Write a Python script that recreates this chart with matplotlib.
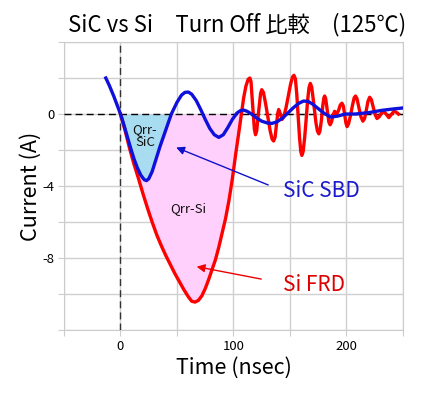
import numpy as np
import matplotlib
matplotlib.use("Agg")
import matplotlib.pyplot as plt

plt.rcParams['font.family'] = ['Noto Sans CJK JP', 'DejaVu Sans']

# SiC SBD turn-off current
sic_t = [-13, -10, -6, -3, 0, 3, 6, 9, 12, 15, 18, 21, 23, 25, 28, 31, 35, 40, 45,
         50, 54, 57, 60, 63, 67, 71, 75, 79, 83, 87, 91, 95, 99, 103, 106, 109, 112,
         116, 120, 125, 130, 134, 138, 143, 148, 153, 158, 162, 166, 170, 175, 180,
         186, 192, 199, 208, 220, 231, 240, 249]
sic_i = [2.0, 1.6, 1.0, 0.5, 0.0, -0.6, -1.25, -1.9, -2.5, -3.0, -3.4, -3.65, -3.7,
         -3.6, -3.2, -2.6, -1.8, -0.9, 0.0, 0.65, 1.05, 1.2, 1.22, 1.1, 0.75, 0.25,
         -0.3, -0.8, -1.15, -1.3, -1.15, -0.75, -0.3, 0.05, 0.18, 0.22, 0.15, 0.0,
         -0.2, -0.4, -0.5, -0.52, -0.45, -0.25, 0.05, 0.35, 0.6, 0.72, 0.7, 0.55,
         0.3, 0.05, -0.17, -0.12, 0.0, 0.0, 0.08, 0.2, 0.27, 0.33]

# Si FRD turn-off current
si_t = [0, 4, 8, 12, 16, 20, 24, 28, 32, 36, 40, 44, 48, 52, 56, 60, 63, 66, 69, 72,
        75, 78, 81, 84, 87, 90, 93, 96, 99, 102, 105,
        107, 109, 111, 113, 114.5, 115.5, 117, 118.5, 119.5, 120.5, 122.2, 124, 125,
        126.5, 128.5, 130.5, 132.5, 134.2, 135.5, 136.8, 138, 139.2, 140, 141.5, 143,
        144.5, 146.5, 148.5, 150.5, 152.2, 153.5, 154.8, 156, 157.2, 158.5, 159.6,
        160.5, 161.6, 163, 164.3, 165.6, 166.8, 168, 169.2, 170.5, 171.8, 173, 174.3,
        175.5, 176.5, 177.8, 179, 180, 180.7, 181.6, 183, 184.4, 185.5, 186.7, 188.2,
        189.5, 190.5, 191.5, 193, 194.5, 196, 197.2, 198.3, 199.5, 200.5, 201.8,
        203.5, 205.2, 206.8, 208, 209.3, 211, 212.8, 214.5, 216, 217.5, 219, 220.5,
        222, 223.8, 225.5, 227, 229, 231, 233, 235, 237.5, 240, 242, 244, 246]
si_i = [0.0, -0.9, -1.9, -2.8, -3.6, -4.45, -5.25, -6.0, -6.7, -7.3, -7.85, -8.35,
        -8.85, -9.3, -9.75, -10.15, -10.4, -10.45, -10.35, -10.1, -9.7, -9.2, -8.65,
        -8.1, -7.4, -6.6, -5.8, -4.8, -3.6, -2.2, -0.9,
        0.0, 0.9, 1.55, 1.93, 2.0, 1.8, 0.45, -0.85, -1.15, -0.95, 0.1, 1.15, 1.35,
        1.2, 0.55, -0.2, -0.95, -1.4, -1.5, -1.3, -0.6, 0.05, 0.25, 0.0, -0.3,
        -0.15, 0.35, 1.0, 1.65, 2.05, 2.15, 1.95, 1.1, -0.1, -1.35, -2.1,
        -2.3, -2.1, -1.3, -0.3, 0.75, 1.45, 1.7, 1.5, 0.85, 0.15, -0.5, -0.95,
        -1.1, -0.95, -0.35, 0.45, 0.9, 1.0, 0.85, 0.2, -0.45, -0.6, -0.45, -0.05,
        0.15, 0.08, 0.02, 0.2, 0.5, 0.6, 0.45, 0.0, -0.5, -0.7, -0.55,
        -0.1, 0.45, 0.9, 1.0, 0.85, 0.35, -0.15, -0.4, -0.25, 0.2, 0.7, 0.93,
        0.8, 0.35, -0.05, -0.25, -0.15, 0.05, 0.15, 0.0, -0.2, 0.0, 0.15, 0.1, 0.0]

x_ticks = [0, 100, 200]
y_ticks = [0, -4, -8]

sic_t, sic_i = np.array(sic_t), np.array(sic_i)
si_t, si_i = np.array(si_t), np.array(si_i)

fig = plt.figure(figsize=(4.21, 3.94), dpi=100)
ax = fig.add_axes([0.152, 0.1624, 0.8052, 0.731])

# filled recovery charge areas
ax.fill_between(si_t, si_i, 0, where=(si_t <= 107), color='#ffd0fc', lw=0, zorder=1)
ax.fill_between(sic_t, sic_i, 0, where=(sic_t >= 0) & (sic_t <= 45),
                color='#a8dcf0', lw=0, zorder=2)

ax.axhline(0, color='black', lw=1, ls=(0, (5, 3)), zorder=3)
ax.axvline(0, color='#333333', lw=1, ls=(0, (5, 3)), zorder=3)

ax.plot(si_t, si_i, color='#ff0000', lw=2.4, zorder=4)
ax.plot(sic_t, sic_i, color='#1010dd', lw=2.4, zorder=5)

ax.text(21.5, -1.2, 'Qrr-\nSiC', fontsize=9.5, ha='center', va='center',
        linespacing=1.0, color='#111111', zorder=6)
ax.text(60, -5.25, 'Qrr-Si', fontsize=9.5, ha='center', va='center',
        color='#111111', zorder=6)

ax.annotate('', xy=(47, -1.8), xytext=(133, -4.0),
            arrowprops=dict(arrowstyle='-|>', color='#1010cc', lw=1,
                            mutation_scale=12), zorder=6)
ax.annotate('', xy=(65, -8.45), xytext=(127, -9.2),
            arrowprops=dict(arrowstyle='-|>', color='#ee0000', lw=1,
                            mutation_scale=12), zorder=6)
ax.text(178, -4.3, 'SiC SBD', fontsize=15, color='#1a1acc', ha='center', va='center')
ax.text(171, -9.5, 'Si FRD', fontsize=15, color='#dd0000', ha='center', va='center')

ax.set_xlim(-50, 250)
ax.set_ylim(-12, 4)
ax.set_xticks(np.arange(-50, 251, 50), minor=False)
ax.set_xticklabels(['' if v not in x_ticks else str(v) for v in range(-50, 251, 50)])
ax.set_yticks(np.arange(-12, 5, 2))
ax.set_yticklabels(['' if v not in y_ticks else str(v) for v in range(-12, 5, 2)])
ax.tick_params(length=4, color='#cccccc', labelsize=9.5, pad=3)
ax.grid(True, color='#d0d0d0', lw=1)
ax.set_axisbelow(True)
for s in ax.spines.values():
    s.set_color('#cccccc')

ax.set_xlabel('Time (nsec)', fontsize=15.5, labelpad=3)
ax.set_ylabel('Current (A)', fontsize=15.5, labelpad=0)

fig.text(68 / 421, 1 - 25 / 394, 'SiC vs Si\u3000Turn Off 比較\u3000(125℃)',
         fontsize=16, ha='left', va='center')

fig.savefig('out.png', dpi=100)
